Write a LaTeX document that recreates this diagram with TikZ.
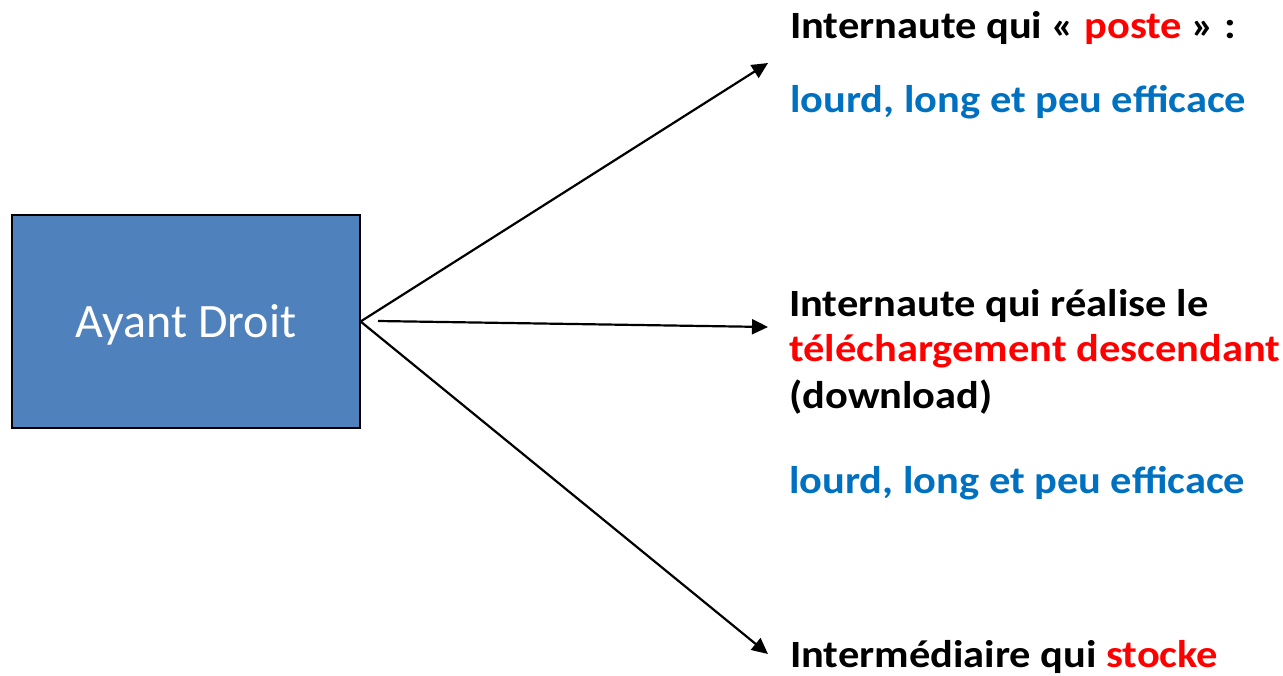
\documentclass[tikz,border=0pt]{standalone}
\usepackage{fontspec}
\setmainfont{Carlito}
\usetikzlibrary{arrows.meta}
\definecolor{boxblue}{HTML}{4F81BD}
\definecolor{txtblue}{HTML}{0070C0}
\definecolor{txtred}{HTML}{FF0000}
\begin{document}
\begin{tikzpicture}[x=1pt,y=-1pt,
  lbl/.style={anchor=base west,inner sep=0pt,xscale=1.1,transform shape,font=\fontsize{38.6}{46}\selectfont\bfseries},
  conn/.style={line width=2.2pt,-{Triangle[length=16pt,width=15pt]}}]
\useasboundingbox (0,0) rectangle (1283,675);
\node[draw=black,line width=1.2pt,fill=boxblue,minimum width=348pt,minimum height=213pt,inner sep=0pt] (ad) at (186,321.5) {};
\node[anchor=base,inner sep=0pt,text=white,font=\fontsize{48}{56}\selectfont] (adt) at (186,337.7) {Ayant Droit};
\coordinate (tipA) at (768,63);
\coordinate (midS) at (378,321);
\coordinate (tipB) at (768,327);
\coordinate (tipC) at (768,654);
\draw[conn] (ad.east) -- (tipA);
\draw[conn] (midS) -- (tipB);
\draw[conn] (ad.east) -- (tipC);
\node[lbl] (t1) at (790,38.3) {Internaute qui « \textcolor{txtred}{poste} » :};
\node[lbl,text=txtblue] (t2) at (790,112.7) {lourd, long et peu efficace};
\node[lbl] (m1) at (789,316) {Internaute qui réalise le};
\node[lbl,text=txtred] (m2) at (789,361.7) {téléchargement descendant};
\node[lbl] (m3) at (789,408) {(download)};
\node[lbl,text=txtblue] (m4) at (789,493) {lourd, long et peu efficace};
\node[lbl] (b1) at (790,667.7) {Intermédiaire qui \textcolor{txtred}{stocke}};
\end{tikzpicture}
\end{document}
